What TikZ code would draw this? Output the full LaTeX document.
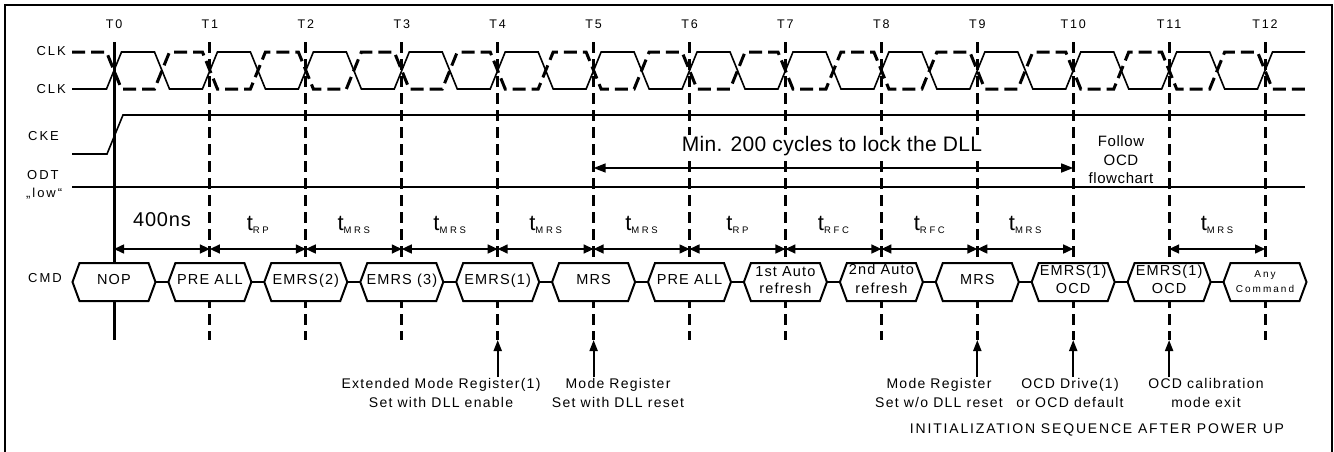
\documentclass[tikz,border=0pt]{standalone}
\usepackage{fontspec}
\setmainfont{Liberation Sans}
\usetikzlibrary{arrows.meta,calc}

% hexagon with one line of text: [style]{name}{x}{text}
\newcommand{\hexone}[4][]{%
  \draw[hexline] ({#3-41.5},282) -- ({#3-34.5},263) -- ({#3+34.5},263) -- ({#3+41.5},282) -- ({#3+34.5},301) -- ({#3-34.5},301) -- cycle;
  \node[hexbox] (#2) at (#3,282) {};
  \node[htxt,#1] (#2t) at (#3,284.3) {#4};}
% hexagon with two lines: [style]{name}{x}{base1}{base2}{line1}{line2}
\newcommand{\hextwo}[7][]{%
  \draw[hexline] ({#3-41.5},282) -- ({#3-34.5},263) -- ({#3+34.5},263) -- ({#3+41.5},282) -- ({#3+34.5},301) -- ({#3-34.5},301) -- cycle;
  \node[hexbox] (#2) at (#3,282) {};
  \node[htxt,#1] (#2a) at (#3,#4) {#6};
  \node[htxt,#1] (#2b) at (#3,#5) {#7};}
\newcommand{\tsub}[1]{{\fontsize{22}{22}\selectfont t}\raisebox{-3pt}{\fontsize{9.5}{10}\selectfont\addfontfeature{LetterSpace=28}#1}}

\begin{document}
\begin{tikzpicture}[x=1pt,y=-1pt,
  border/.style={line width=2pt},
  clk/.style={line width=1.6pt, line join=miter},
  clkd/.style={line width=3pt, dash pattern=on 13pt off 6pt},
  sig/.style={line width=1.6pt},
  tline/.style={line width=3pt},
  dline/.style={line width=3pt, dash pattern=on 11pt off 6pt},
  dim/.style={line width=1.5pt, {Triangle[length=10pt,width=9pt]}-{Triangle[length=10pt,width=9pt]}},
  longarr/.style={line width=1.5pt, {Triangle[length=12pt,width=9pt]}-{Triangle[length=12pt,width=9pt]}},
  uparr/.style={line width=2pt, -{Triangle[length=11pt,width=8pt]}},
  hexline/.style={line width=2pt, fill=white},
  conn/.style={line width=2pt},
  hexbox/.style={minimum width=83pt, minimum height=38pt, inner sep=0pt},
  htxt/.style={inner sep=0pt, anchor=base, font=\fontsize{14.5}{18}\selectfont\addfontfeature{LetterSpace=8}},
  small/.style={font=\fontsize{10}{15}\selectfont\addfontfeature{LetterSpace=20}},
  lbl/.style={inner sep=0pt, font=\fontsize{13}{15}\selectfont\addfontfeature{LetterSpace=15}},
  tlbl/.style={inner sep=0pt, anchor=base, font=\fontsize{12.5}{14}\selectfont\addfontfeature{LetterSpace=15}},
  tim/.style={inner sep=0pt, anchor=base},
  annot/.style={inner sep=0pt, align=center, font=\fontsize{14}{19}\selectfont\addfontfeature{LetterSpace=9}}
]
\useasboundingbox (0,0) rectangle (1334,451);
\draw[border] (5,455) -- (5,5) -- (1332,5) -- (1332,455);

% time coordinates and labels
\foreach \k/\x in {0/114,1/209.9,2/305.8,3/401.8,4/497.7,5/593.6,6/689.5,7/785.4,8/881.4,9/977.3,10/1073.2,11/1169.1,12/1265}{
  \coordinate (tt\k) at (\x,42);
  \coordinate (tb\k) at (\x,340);
  \coordinate (d\k) at (\x,249);
  \coordinate (ab\k) at (\x,377);
  \node[tlbl] (tl\k) at (\x,28) {T\k};
}

% signal labels
\node[lbl, anchor=base east] (lclk) at (66,55) {CLK};
\node[lbl, anchor=base east] (lclkb) at (66,93) {CLK};
\node[lbl, anchor=base west] (lcke) at (28,140) {CKE};
\node[lbl, anchor=base west] (lodt) at (27,179) {ODT};
\node[lbl, anchor=base west] (llow) at (26,197) {„low“};
\node[lbl, anchor=base west] (lcmd) at (28,282) {CMD};

% clocks
\draw[clk] (72,89) \foreach \k in {0,...,11}{
  -- ({114+95.925*\k-7.5},89) -- ({114+95.925*\k+7.5},52)
  -- ({114+95.925*\k+40.5},52) -- ({114+95.925*\k+55.5},89) }
  -- (1257.5,89) -- (1272.5,52) -- (1305,52);
\draw[clkd] (72,52) \foreach \k in {0,...,11}{
  -- ({114+95.925*\k-7.5},52) -- ({114+95.925*\k+7.5},89)
  -- ({114+95.925*\k+40.5},89) -- ({114+95.925*\k+55.5},52) }
  -- (1257.5,52) -- (1272.5,89) -- (1305,89);

% CKE and ODT
\draw[sig] (72,154) -- (107,154) -- (123,115) -- (1305,115);
\draw[sig, line width=1.8pt] (72,187) -- (1305,187);

% vertical time lines
\draw[tline] (tt0) -- (tb0);
\foreach \k in {1,...,12} \draw[dline] (tt\k) -- (tb\k);

% command hexagons
\hexone{c0}{114}{NOP}
\hexone{c1}{209.9}{PRE ALL}
\hexone{c2}{305.8}{EMRS(2)}
\hexone{c3}{401.8}{EMRS (3)}
\hexone{c4}{497.7}{EMRS(1)}
\hexone{c5}{593.6}{MRS}
\hexone{c6}{689.5}{PRE ALL}
\hextwo{c7}{785.4}{276}{293}{1st Auto}{refresh}
\hextwo{c8}{881.4}{274}{293}{2nd Auto}{refresh}
\hexone{c9}{977.3}{MRS}
\hextwo{c10}{1073.2}{275}{293}{EMRS(1)}{OCD}
\hextwo{c11}{1169.1}{275}{293}{EMRS(1)}{OCD}
\hextwo[small]{c12}{1265}{277}{292}{Any}{Command}
\foreach \a/\b in {0/1,1/2,2/3,3/4,4/5,5/6,6/7,7/8,8/9,9/10,10/11,11/12}
  \draw[conn] (c\a.east) -- (c\b.west);

% timing dimensions
\foreach \a/\b in {0/1,1/2,2/3,3/4,4/5,5/6,6/7,7/8,8/9,9/10,11/12}
  \draw[dim] (d\a) -- (d\b);
\node[tim, font=\fontsize{20}{20}\selectfont\addfontfeature{LetterSpace=4}] (w01) at ($(d0)!.5!(d1)+(0,-23)$) {400ns};
\node[tim] (w12) at ($(d1)!.5!(d2)+(0,-19)$) {\tsub{RP}};
\node[tim] (w23) at ($(d2)!.5!(d3)+(0,-19)$) {\tsub{MRS}};
\node[tim] (w34) at ($(d3)!.5!(d4)+(0,-19)$) {\tsub{MRS}};
\node[tim] (w45) at ($(d4)!.5!(d5)+(0,-19)$) {\tsub{MRS}};
\node[tim] (w56) at ($(d5)!.5!(d6)+(0,-19)$) {\tsub{MRS}};
\node[tim] (w67) at ($(d6)!.5!(d7)+(0,-19)$) {\tsub{RP}};
\node[tim] (w78) at ($(d7)!.5!(d8)+(0,-19)$) {\tsub{RFC}};
\node[tim] (w89) at ($(d8)!.5!(d9)+(0,-19)$) {\tsub{RFC}};
\node[tim] (w910) at ($(d9)!.5!(d10)+(0,-19)$) {\tsub{MRS}};
\node[tim] (w1112) at ($(d11)!.5!(d12)+(0,-19)$) {\tsub{MRS}};

% DLL lock
\coordinate (m5) at (593.6,168);
\coordinate (m10) at (1073.2,168);
\draw[longarr] (m5) -- (m10);
\node[tim, fill=white, inner sep=1pt, font=\fontsize{21}{21}\selectfont\addfontfeature{LetterSpace=1.5}] (dll) at (832,151) {Min. 200 cycles to lock the DLL};
\node[annot, font=\fontsize{15}{18.5}\selectfont\addfontfeature{LetterSpace=4}] (ocdf) at (1121,160) {Follow\\OCD\\flowchart};

% bottom annotations
\foreach \k in {4,5,9,10,11} \draw[uparr] (ab\k) -- (tb\k);
\node[annot] (n4) at (441,392.5) {Extended Mode Register(1)\\Set with DLL enable};
\node[annot] (n5) at (618,392.5) {Mode Register\\Set with DLL reset};
\node[annot] (n9) at (939,392.5) {Mode Register\\Set w/o DLL reset};
\node[annot] (n10) at (1070,392.5) {OCD Drive(1)\\or OCD default};
\node[annot] (n11) at (1206,392.5) {OCD calibration\\mode exit};
\node[annot, font=\fontsize{14}{16}\selectfont\addfontfeature{LetterSpace=13}] (title) at (1097,430) {INITIALIZATION SEQUENCE AFTER POWER UP};
\end{tikzpicture}
\end{document}
